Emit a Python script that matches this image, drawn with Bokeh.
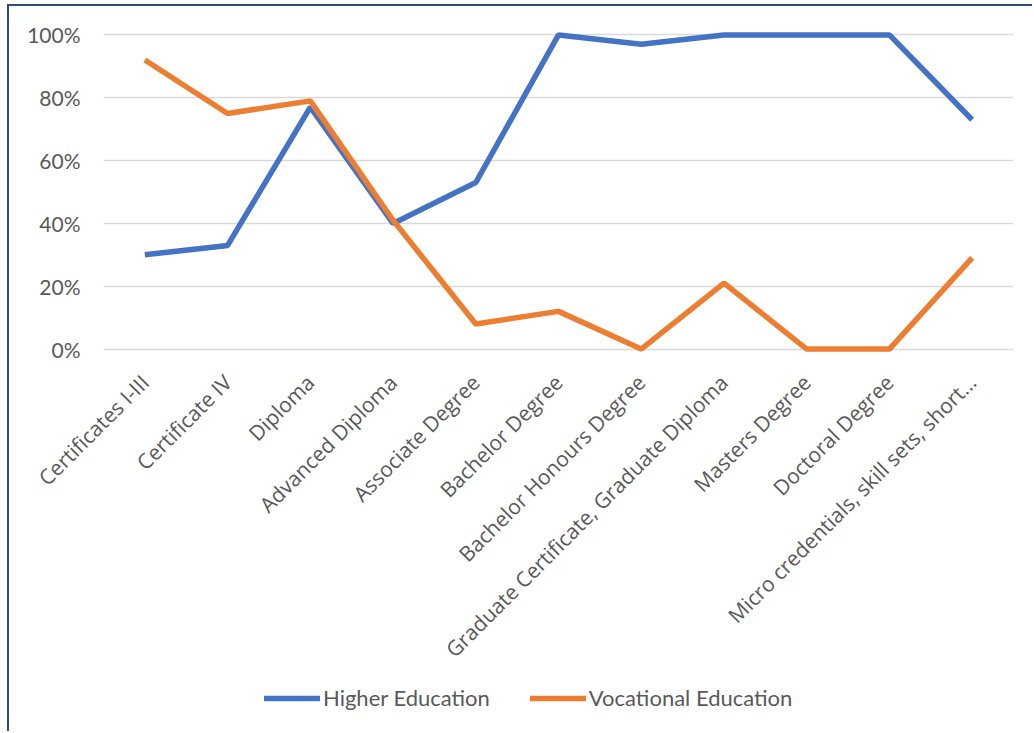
from math import pi
from bokeh.plotting import figure
from bokeh.layouts import column
from bokeh.models import Range1d, FixedTicker, PrintfTickFormatter, Legend, LegendItem
from bokeh.embed import file_html
from bokeh.resources import INLINE

categories = ["Certificates I-III", "Certificate IV", "Diploma", "Advanced Diploma",
              "Associate Degree", "Bachelor Degree", "Bachelor Honours Degree",
              "Graduate Certificate, Graduate Diploma", "Masters Degree",
              "Doctoral Degree", "Micro credentials, skill sets, short\u2026"]
higher_education = [30, 33, 77, 40, 53, 100, 97, 100, 100, 100, 73]
vocational_education = [92, 75, 79, 41, 8, 12, 0, 21, 0, 0, 29]
y_ticks = [0, 20, 40, 60, 80, 100]
series_names = ["Higher Education", "Vocational Education"]

BLUE = "#4472C4"
ORANGE = "#ED7D31"
TXT = "#595959"

p = figure(x_range=categories, y_range=Range1d(-3, 103), width=1023, height=669,
           output_backend="svg", toolbar_location=None,
           min_border_left=94, min_border_right=19, min_border_top=19, min_border_bottom=317)
p.outline_line_color = None

p.line(categories, higher_education, line_color=BLUE, line_width=5.5)
p.line(categories, vocational_education, line_color=ORANGE, line_width=5.5)

p.xgrid.grid_line_color = None
p.ygrid.grid_line_color = "#D9D9D9"
p.ygrid.grid_line_width = 1.5
p.yaxis.ticker = FixedTicker(ticks=y_ticks)
p.yaxis.formatter = PrintfTickFormatter(format="%d%%")
for ax in (p.xaxis[0], p.yaxis[0]):
    ax.axis_line_color = None
    ax.major_tick_line_color = None
    ax.minor_tick_line_color = None
    ax.major_label_text_color = TXT
p.yaxis.major_label_text_font = "Lato"
p.yaxis.major_label_text_font_size = "21px"
p.yaxis.major_label_standoff = 17
p.xaxis.major_label_text_font = "Open Sans"
p.xaxis.major_label_text_font_size = "21px"
p.xaxis.major_label_orientation = pi / 4
p.xaxis.major_label_standoff = 14

# legend strip (same series drawn outside its visible range; only the legend shows)
q = figure(x_range=categories, y_range=Range1d(1000, 1001), width=1023, height=56,
           output_backend="svg", toolbar_location=None,
           x_axis_location=None, y_axis_location=None,
           min_border_left=0, min_border_right=0, min_border_top=0, min_border_bottom=0)
q.outline_line_color = None
q.grid.grid_line_color = None
k1 = q.line(categories, higher_education, line_color=BLUE, line_width=5.5, line_cap="round")
k2 = q.line(categories, vocational_education, line_color=ORANGE, line_width=5.5, line_cap="round")
legend = Legend(items=[LegendItem(label=series_names[0], renderers=[k1]),
                       LegendItem(label=series_names[1], renderers=[k2])],
                location=(161, 20), orientation="horizontal",
                glyph_width=56, glyph_height=24, label_standoff=3, spacing=40,
                padding=0, margin=0, border_line_color=None, background_fill_alpha=0,
                label_text_font="Lato", label_text_font_size="22px", label_text_color=TXT)
q.add_layout(legend, "center")

layout = column(p, q, spacing=0, margin=(4, 0, 0, 7),
                styles={"border-left": "2px solid #2E4A7E", "border-top": "2px solid #2E4A7E"})

open("out.html", "w").write(file_html(layout, INLINE))
